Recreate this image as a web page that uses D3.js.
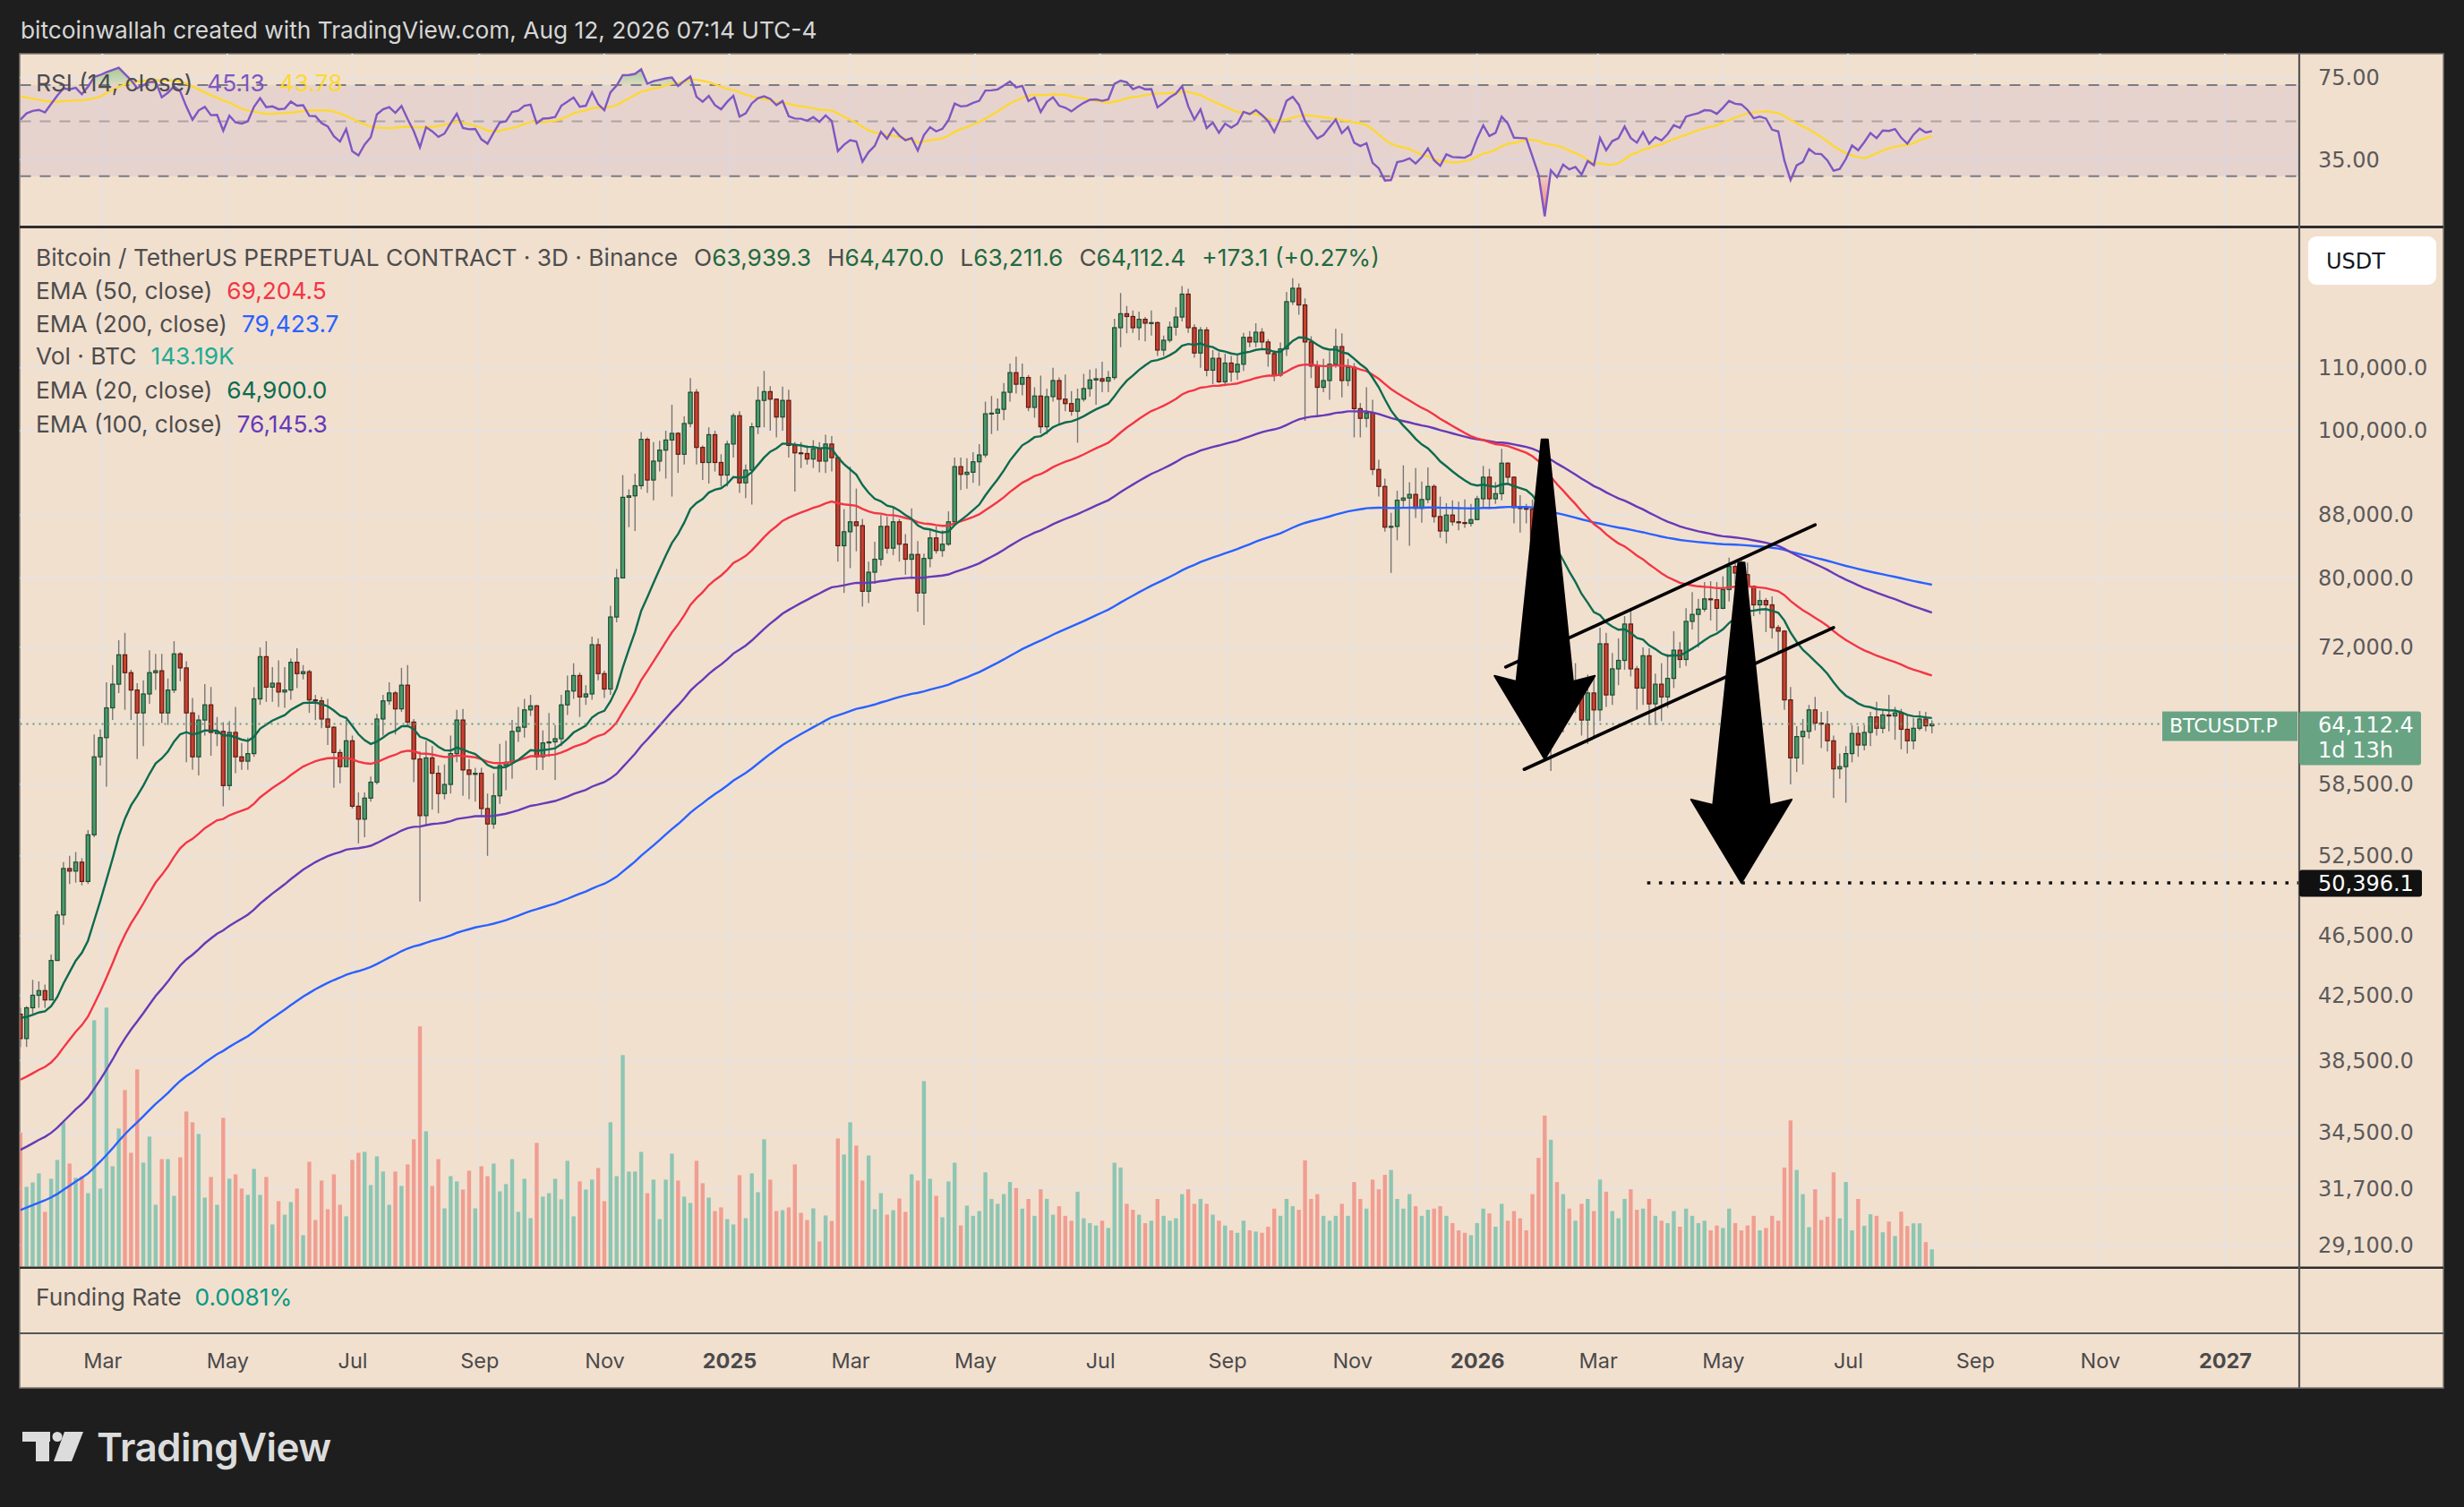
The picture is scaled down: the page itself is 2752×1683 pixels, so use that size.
<!DOCTYPE html>
<html>
<head>
<meta charset="utf-8">
<title>BTCUSDT.P 3D</title>
<script src="https://cdn.jsdelivr.net/npm/d3@7/dist/d3.min.js"></script>
<style>
  html, body { margin: 0; padding: 0; background: #1e1e1e; }
  svg { display: block; }
</style>
</head>
<body>
<svg id="chart"></svg>
<script>
// 3D candles, thousands of USDT, first candle opens 2024-01-21 (UTC)
var firstCandle = '2024-01-21';
var openK = [
  41.3,39.8,41.7,42.5,42.8,42.2,44.8,48.0,51.5,51.3,
  52.0,50.5,54.2,61.0,62.8,65.7,68.1,71.2,69.3,67.5,
  65.2,67.1,69.3,69.5,65.2,67.5,71.3,69.8,65.2,61.0,
  64.5,66.0,63.2,63.4,58.4,63.3,61.0,60.6,61.3,66.6,
  71.0,67.8,68.2,67.3,67.5,70.4,69.2,69.4,66.5,66.4,
  64.6,63.8,61.4,60.1,62.5,56.6,55.5,57.3,58.7,64.6,
  66.4,67.2,65.6,68.0,64.3,60.8,55.8,60.9,59.5,57.7,
  58.5,61.3,64.5,59.8,59.4,59.5,56.4,55.1,57.5,60.2,
  60.5,63.4,63.8,65.5,65.9,61.0,62.3,62.4,62.7,66.0,
  67.4,69.0,66.8,67.1,72.3,69.2,67.6,75.4,80.0,90.4,
  90.6,92.0,98.7,92.8,95.5,97.1,98.6,99.6,96.5,101.1,
  106.0,97.5,95.3,99.4,95.3,93.5,98.0,102.3,92.4,94.2,
  100.6,104.7,106.1,104.9,102.1,104.7,97.8,96.7,96.6,95.8,
  97.3,95.5,98.0,96.0,84.0,85.8,87.1,86.6,78.4,80.7,
  82.3,86.5,83.7,87.1,84.2,82.3,82.9,78.2,82.4,85.0,
  83.4,84.2,87.1,94.7,93.6,93.9,95.4,96.4,102.6,102.7,
  103.3,106.0,109.2,107.3,108.4,103.6,105.4,100.6,105.3,107.9,
  104.9,104.2,103.0,104.9,106.6,108.0,108.2,107.8,108.4,116.9,
  119.4,118.9,116.9,118.4,117.7,117.8,113.0,114.7,117.0,118.8,
  123.0,116.9,112.5,116.5,109.6,111.6,107.7,110.8,109.3,110.6,
  115.2,114.4,116.1,114.4,112.4,108.8,113.2,121.6,124.1,121.0,
  114.4,110.3,106.8,107.9,110.6,113.6,107.9,110.1,103.4,101.9,
  102.7,94.3,91.9,86.4,86.5,90.0,90.3,90.8,88.9,90.1,
  91.9,87.8,85.9,88.0,87.1,87.0,86.9,87.4,90.2,93.2,
  90.2,90.9,95.2,93.2,89.0,88.9,88.8,83.8,78.3,62.6,
  69.9,66.7,69.4,67.2,67.7,64.5,67.2,65.5,72.4,67.0,
  69.7,70.6,74.6,69.7,67.7,71.1,66.1,68.1,66.8,68.7,
  71.7,70.7,74.9,75.7,76.3,77.5,77.4,76.4,78.6,81.4,
  80.6,80.4,79.0,76.8,77.3,76.8,74.2,73.8,66.5,60.9,
  62.9,63.4,65.5,64.2,64.1,62.5,59.9,60.1,61.3,63.2,
  62.1,63.3,64.8,63.7,65.0,64.9,65.2,63.6,62.5,63.7,
  64.6,63.9393
];
var highK = [
  41.7,41.8,43.5,43.4,43.2,45.2,48.3,52.0,52.5,52.8,
  52.3,54.6,63.1,63.6,68.3,70.1,72.8,73.6,69.6,68.2,
  68.5,71.7,71.3,71.3,68.7,72.7,71.5,70.5,66.7,65.0,
  68.1,67.8,64.8,64.3,64.4,65.8,62.3,62.8,67.8,72.0,
  72.7,69.9,70.6,69.9,70.8,71.9,70.1,69.6,67.0,66.8,
  66.6,63.9,61.7,64.5,63.0,57.8,57.8,59.2,65.1,67.0,
  68.3,67.4,69.8,70.1,64.6,61.5,62.5,62.0,60.2,60.3,
  63.0,65.5,65.6,60.8,60.0,60.0,57.7,59.5,62.2,62.5,
  64.5,65.8,66.6,67.0,66.0,63.5,65.2,64.0,67.0,69.0,
  70.3,69.3,68.0,73.2,73.0,69.5,76.7,81.1,93.5,91.5,
  93.7,99.8,99.0,98.3,98.5,100.0,104.0,99.8,102.2,108.3,
  106.5,97.8,100.5,100.0,96.5,98.5,102.7,103.0,95.0,101.2,
  106.9,109.5,107.0,105.0,106.9,106.4,98.3,98.3,97.8,98.6,
  98.3,99.4,99.2,96.3,88.8,94.7,91.6,87.5,82.0,84.5,
  88.0,87.8,88.9,87.5,85.5,88.9,84.6,83.0,86.0,86.5,
  86.0,88.5,96.0,96.0,95.9,96.8,98.0,104.5,105.4,105.0,
  107.5,110.7,111.9,110.7,108.8,106.8,108.7,106.6,110.0,108.4,
  108.9,106.2,106.6,109.0,109.7,109.9,111.0,109.5,118.5,123.2,
  120.8,120.0,119.8,118.8,120.0,118.0,115.5,118.0,120.6,124.5,
  124.0,117.5,117.0,117.0,113.0,112.6,112.4,112.0,112.1,116.0,
  116.3,117.7,116.8,114.9,113.0,114.3,123.4,126.0,125.0,122.2,
  115.4,111.2,111.5,112.8,116.7,115.9,111.5,110.8,104.3,106.8,
  104.8,95.7,93.0,88.3,91.3,94.9,92.5,94.5,92.6,94.6,
  92.2,90.5,89.6,90.0,89.8,90.1,89.5,90.6,94.8,94.4,
  92.5,97.3,95.3,93.3,90.7,89.5,90.1,84.0,79.0,71.0,
  72.0,71.0,70.5,70.3,68.0,69.1,68.8,74.2,73.6,71.4,
  73.0,75.5,76.2,70.0,72.0,71.9,69.2,70.3,71.3,73.8,
  72.6,76.4,78.3,77.5,79.5,79.6,79.5,80.2,82.5,81.8,
  82.4,81.9,79.1,78.5,77.6,77.8,74.5,73.9,67.8,63.9,
  64.6,66.0,66.8,65.3,65.4,63.0,61.3,62.0,64.0,63.9,
  64.0,65.3,66.3,65.5,67.0,65.8,65.6,65.0,64.7,65.4,
  65.3,64.470
];
var lowK = [
  39.3,39.3,41.3,41.7,41.7,42.2,44.8,47.3,50.3,50.4,
  50.2,50.3,54.0,60.2,58.3,64.5,67.2,65.5,64.5,60.8,
  62.0,66.1,67.5,64.2,64.0,67.2,68.4,60.5,59.8,59.3,
  63.0,61.1,62.0,56.6,58.0,59.5,59.8,59.8,61.0,66.0,
  66.3,66.3,65.8,65.7,66.5,67.7,68.6,65.2,64.5,63.7,
  62.1,58.2,58.6,60.1,56.4,53.5,54.0,57.0,58.5,63.0,
  66.0,63.1,65.3,64.0,58.7,49.0,55.0,56.3,56.0,57.2,
  57.7,60.5,57.5,57.2,57.0,55.8,52.5,54.7,56.8,58.0,
  59.0,62.4,62.8,64.9,59.8,59.8,61.0,58.9,62.0,65.0,
  66.6,64.8,66.0,66.5,68.5,66.7,67.0,74.8,80.0,86.4,
  85.9,91.5,91.0,90.0,94.0,93.0,90.5,93.8,95.0,100.5,
  95.0,92.8,92.3,94.0,91.9,91.9,96.0,91.0,90.3,89.4,
  99.5,100.5,100.0,99.0,100.0,96.0,91.2,94.5,95.0,94.5,
  93.9,93.8,94.0,82.0,78.2,81.2,83.3,76.6,77.0,79.3,
  81.5,83.0,82.8,82.0,80.4,79.9,76.0,74.5,81.3,83.0,
  82.6,84.0,86.9,91.4,91.6,92.4,92.0,96.0,99.5,100.0,
  101.6,104.5,105.8,105.5,103.0,102.0,99.6,99.5,104.5,100.8,
  103.0,102.3,98.2,104.5,105.3,104.0,106.0,106.0,108.0,113.5,
  115.9,116.0,114.7,114.5,115.5,112.0,112.0,114.3,115.5,118.0,
  116.0,111.7,110.0,108.6,107.3,107.5,107.0,107.7,108.0,109.5,
  113.5,113.5,113.2,110.2,107.8,108.5,112.0,121.0,119.2,101.5,
  108.3,102.1,106.0,104.8,110.0,105.2,107.0,99.0,99.0,100.5,
  93.5,90.5,85.8,80.6,84.7,89.1,84.0,87.6,87.0,89.6,
  87.0,85.0,84.3,86.6,86.0,86.3,86.5,87.3,89.0,88.8,
  89.5,90.0,92.3,86.9,85.7,86.9,80.8,74.3,61.7,59.7,
  64.3,63.3,65.3,65.2,63.0,62.2,62.8,64.4,65.8,66.0,
  68.0,69.6,68.9,65.5,66.0,64.0,64.0,64.4,65.7,67.7,
  69.8,70.0,74.0,72.0,76.0,75.0,73.8,76.3,77.2,79.3,
  78.4,78.4,75.5,75.7,73.7,73.0,71.5,65.5,58.5,59.6,
  60.3,62.7,63.5,61.8,61.5,57.3,59.0,56.9,60.5,61.0,
  61.6,62.0,63.0,63.2,63.4,62.6,61.7,61.3,61.7,63.5,
  63.4,63.2116
];
var closeK = [
  39.8,41.7,42.5,42.8,42.2,44.8,48.0,51.5,51.3,52.0,
  50.5,54.2,61.0,62.8,65.7,68.1,71.2,69.3,67.5,65.2,
  67.1,69.3,69.5,65.2,67.5,71.3,69.8,65.2,61.0,64.5,
  66.0,63.3,63.4,58.4,63.3,61.0,60.6,61.3,66.6,71.0,
  67.8,68.2,67.3,67.5,70.4,69.2,69.4,66.5,66.4,64.6,
  63.8,61.4,60.1,62.5,56.6,55.5,57.3,58.7,64.6,66.4,
  67.2,65.6,68.0,64.3,60.8,55.8,60.9,59.5,57.7,58.5,
  61.3,64.5,59.8,59.4,59.5,56.4,55.1,57.5,60.2,60.5,
  63.4,63.8,65.5,65.9,61.0,62.3,62.4,62.7,66.0,67.4,
  69.0,66.8,67.1,72.3,69.2,67.6,75.4,80.0,90.4,90.6,
  92.0,98.7,92.8,95.5,97.1,98.6,99.6,96.5,101.1,106.0,
  97.5,95.3,99.4,95.3,93.5,98.0,102.3,92.4,94.2,100.6,
  104.7,106.1,104.9,102.1,104.7,97.8,96.7,96.6,95.8,97.3,
  95.5,98.0,96.0,84.0,85.8,87.1,86.6,78.4,80.7,82.3,
  86.5,83.7,87.1,84.2,82.3,82.9,78.2,82.4,85.0,83.4,
  84.2,87.1,94.7,93.6,93.9,95.4,96.4,102.6,102.7,103.3,
  106.0,109.2,107.3,108.4,103.6,105.4,100.6,105.3,107.9,104.9,
  104.2,103.0,104.9,106.6,108.0,108.2,107.8,108.4,116.9,119.4,
  118.9,116.9,118.4,117.7,117.8,113.0,114.7,117.0,118.8,123.0,
  116.9,112.5,116.5,109.6,111.6,107.7,110.8,109.3,110.6,115.2,
  114.4,116.1,114.4,112.4,108.8,113.2,121.6,124.1,121.0,114.4,
  110.3,106.8,107.9,110.6,113.6,107.9,110.1,103.4,101.9,102.7,
  94.3,91.9,86.4,86.5,90.0,90.3,90.8,88.9,90.1,91.9,
  87.8,85.9,88.0,87.1,87.0,86.9,87.4,90.2,93.2,90.2,
  90.9,95.2,93.2,89.0,88.9,88.8,83.8,78.3,62.6,69.9,
  66.7,69.4,67.2,67.7,64.5,67.2,65.5,72.4,67.0,69.7,
  70.6,74.6,69.7,67.7,71.1,66.1,68.1,66.8,68.7,71.7,
  70.7,74.9,75.7,76.3,77.5,77.4,76.4,78.6,81.4,80.6,
  80.4,79.0,76.8,77.3,76.8,74.2,73.8,66.5,60.9,62.9,
  63.4,65.5,64.2,64.1,62.5,59.9,60.1,61.3,63.2,62.1,
  63.3,64.8,63.7,65.0,64.9,65.2,63.6,62.5,63.7,64.6,
  63.9393,64.1124
];
// volume per candle, thousands of BTC
var volumeK = [
  1110,660,697,772,453,727,883,1195,853,735,
  747,608,2040,646,2144,831,1143,1462,942,1632,
  861,1076,512,890,890,586,905,1284,1195,1098,
  571,742,512,1232,727,764,646,594,809,594,
  742,349,542,430,534,646,260,868,386,712,
  475,764,512,416,883,942,950,675,913,787,
  512,787,668,846,1054,1989,1120,668,890,482,
  749,705,638,794,482,831,749,853,623,683,
  890,453,727,401,1024,579,608,727,557,876,
  416,705,638,720,816,542,1195,749,1751,787,
  787,950,608,720,393,720,935,712,579,527,
  876,690,571,460,490,393,349,757,401,772,
  616,1054,720,460,467,490,846,445,386,482,
  208,423,378,1061,928,1195,1002,712,920,475,
  608,430,467,564,453,764,712,1536,727,586,
  408,705,860,341,505,420,460,780,560,520,
  600,700,650,480,560,420,640,560,430,500,
  420,380,620,400,360,340,380,320,860,820,
  520,470,430,360,380,560,420,380,400,600,
  640,520,560,520,430,380,340,300,280,380,
  300,290,280,330,480,420,560,500,470,880,
  560,600,420,380,420,520,420,700,560,480,
  720,640,760,800,560,480,600,500,420,470,
  480,500,420,360,300,280,260,360,480,440,
  330,520,380,460,400,300,600,900,1250,1050,
  700,600,480,380,520,560,460,720,620,460,
  400,560,640,470,480,560,420,380,360,460,
  330,480,420,360,380,300,340,320,480,360,
  300,340,420,300,320,420,380,820,1210,800,
  600,327,640,386,413,780,400,700,300,560,
  338,433,420,284,373,254,455,336,358,358,
  203,143.19
];

// EMA values just before the first candle (thousands)
var emaPeriods = [200, 100, 50, 20];
var emaSeedK = [30.6, 33.5, 37.3, 41.2];
var emaColors = ['#2962ff', '#673ab7', '#f23645', '#0c6b4f'];
// RSI warm-up state before the first candle
var rsiSeedGainK = 1.2, rsiSeedLossK = 1.05, rsiMaSeed = 64;

var priceTicks = [110000, 100000, 88000, 80000, 72000, 58500, 52500, 46500, 42500, 38500, 34500, 31700, 29100];
var hiddenGridPrices = [64500];
var rsiTicks = [75, 35];
var rsiLevels = [70, 50, 30];
var tickDates = ['2024-03-01','2024-05-01','2024-07-01','2024-09-01','2024-11-01','2025-01-01',
  '2025-03-01','2025-05-01','2025-07-01','2025-09-01','2025-11-01','2026-01-01',
  '2026-03-01','2026-05-01','2026-07-01','2026-09-01','2026-11-01','2027-01-01'];
var tickLabels = ['Mar','May','Jul','Sep','Nov','2025','Mar','May','Jul','Sep','Nov','2026',
  'Mar','May','Jul','Sep','Nov','2027'];

// user drawings, in date / price
var arrowMarks = [
  {from: ['2026-02-03', 98700], to: ['2026-02-03', 60800]},
  {from: ['2026-05-10', 81900], to: ['2026-05-10', 50400]}
];
var channelLines = [
  {from: ['2026-01-15', 69900], to: ['2026-06-15', 86700]},
  {from: ['2026-01-24', 59850], to: ['2026-06-24', 74200]}
];
var targetStart = '2026-03-25', targetPrice = 50396.1;

// ---------------------------------------------------------------
var W = 2752, H = 1683;
var plotL = 22.5, plotR = 2568, axisR = 2729,
  rsiTop = 60, rsiBot = 252, mainTop = 255, mainBot = 1414.5,
  fundTop = 1417, fundBot = 1488.5, timeBot = 1550;
var uiFont = "Inter, 'Noto Sans', sans-serif",
  axisFont = "'DejaVu Sans', Verdana, sans-serif";
var uiSize = 26.3;
var textGray = '#4d4d4d';
var parseDate = d3.utcParse('%Y-%m-%d');
var DAY = 86400000;
var t0 = parseDate(firstCandle).getTime();

var candles = closeK.map(function(c, i) {
  return {
    date: new Date(t0 + i * 3 * DAY),
    o: openK[i] * 1000, h: highK[i] * 1000, l: lowK[i] * 1000, c: c * 1000,
    v: volumeK[i]
  };
});

var x = d3.scaleUtc()
  .domain([new Date(Date.UTC(2024, 0, 21)), new Date(Date.UTC(2027, 1, 6, 7))])
  .range([22.8, plotR]);
var y = d3.scaleLog().domain([28170, 135900]).range([mainBot, mainTop]);
var rsiY = d3.scaleLog().domain([18.97, 93.6]).range([rsiBot, rsiTop]);
var volY = d3.scaleLinear().domain([0, 2150]).range([mainBot, mainBot - 290]);

// indicators
function ema(period, seedK) {
  var a = 2 / (period + 1), prev = seedK * 1000;
  return candles.map(function(d) {
    prev = a * d.c + (1 - a) * prev;
    return {date: d.date, v: prev};
  });
}
var emaSeries = emaPeriods.map(function(p, i) { return ema(p, emaSeedK[i]); });

var avgG = rsiSeedGainK * 1000, avgL = rsiSeedLossK * 1000, prevC = candles[0].o;
var rsi = candles.map(function(d) {
  var ch = d.c - prevC; prevC = d.c;
  avgG = (avgG * 13 + Math.max(ch, 0)) / 14;
  avgL = (avgL * 13 + Math.max(-ch, 0)) / 14;
  return {date: d.date, v: 100 - 100 / (1 + avgG / avgL)};
});
var rsiMa = rsi.map(function(d, i) {
  var s = 0, n = 0;
  for (var k = Math.max(0, i - 13); k <= i; k++) { s += rsi[k].v; n++; }
  s += (14 - n) * rsiMaSeed;
  return {date: d.date, v: s / 14};
});

// ---------------------------------------------------------------
var svg = d3.select('#chart').attr('width', W).attr('height', H);
svg.append('rect').attr('width', W).attr('height', H).attr('fill', '#1e1e1e');

var defs = svg.append('defs');
defs.append('clipPath').attr('id', 'clipMain').append('rect')
  .attr('x', plotL).attr('y', mainTop).attr('width', plotR - plotL).attr('height', mainBot - mainTop);
defs.append('clipPath').attr('id', 'clipRsi').append('rect')
  .attr('x', plotL).attr('y', rsiTop).attr('width', plotR - plotL).attr('height', rsiBot - rsiTop);
var ob = defs.append('linearGradient').attr('id', 'obGrad').attr('gradientUnits', 'userSpaceOnUse')
  .attr('x1', 0).attr('x2', 0).attr('y1', rsiTop).attr('y2', rsiY(70));
ob.append('stop').attr('offset', 0).attr('stop-color', '#4caf50').attr('stop-opacity', 0.75);
ob.append('stop').attr('offset', 1).attr('stop-color', '#4caf50').attr('stop-opacity', 0.12);
var os = defs.append('linearGradient').attr('id', 'osGrad').attr('gradientUnits', 'userSpaceOnUse')
  .attr('x1', 0).attr('x2', 0).attr('y1', rsiY(30)).attr('y2', rsiBot);
os.append('stop').attr('offset', 0).attr('stop-color', '#f23645').attr('stop-opacity', 0.12);
os.append('stop').attr('offset', 1).attr('stop-color', '#f23645').attr('stop-opacity', 0.75);

// chart panel
svg.append('rect').attr('x', 22).attr('y', rsiTop).attr('width', axisR - 22).attr('height', timeBot - rsiTop)
  .attr('fill', '#f2e0cf').attr('stroke', '#7d7670').attr('stroke-width', 1.5);

// grid
var gridColor = '#e7e2df';
var gGrid = svg.append('g').attr('stroke', gridColor).attr('stroke-width', 2);
var tDates = tickDates.map(parseDate);
[[rsiTop, rsiBot], [mainTop, mainBot]].forEach(function(span) {
  gGrid.append('g').selectAll('line').data(tDates).join('line')
    .attr('x1', function(d) { return x(d); }).attr('x2', function(d) { return x(d); })
    .attr('y1', span[0]).attr('y2', span[1]);
});
gGrid.append('g').selectAll('line').data(priceTicks.concat(hiddenGridPrices)).join('line')
  .attr('x1', plotL).attr('x2', plotR)
  .attr('y1', function(d) { return y(d); }).attr('y2', function(d) { return y(d); });
gGrid.append('g').selectAll('line').data(rsiTicks).join('line')
  .attr('x1', plotL).attr('x2', plotR)
  .attr('y1', function(d) { return rsiY(d); }).attr('y2', function(d) { return rsiY(d); });

// RSI pane
var gRsi = svg.append('g').attr('clip-path', 'url(#clipRsi)');
gRsi.append('rect').attr('x', plotL).attr('width', plotR - plotL)
  .attr('y', rsiY(70)).attr('height', rsiY(30) - rsiY(70))
  .attr('fill', '#7e57c2').attr('fill-opacity', 0.09);
gRsi.selectAll('line.lvl').data(rsiLevels).join('line')
  .attr('x1', plotL).attr('x2', plotR)
  .attr('y1', function(d) { return rsiY(d); }).attr('y2', function(d) { return rsiY(d); })
  .attr('stroke', '#787b86').attr('stroke-opacity', function(d) { return d === 50 ? 0.55 : 1; })
  .attr('stroke-width', 2).attr('stroke-dasharray', '12 10');
var rx = function(d) { return x(d.date); };
gRsi.append('path').datum(rsi)
  .attr('d', d3.area().x(rx).y0(rsiY(70)).y1(function(d) { return rsiY(Math.max(d.v, 70)); }))
  .attr('fill', 'url(#obGrad)');
gRsi.append('path').datum(rsi)
  .attr('d', d3.area().x(rx).y0(rsiY(30)).y1(function(d) { return rsiY(Math.min(d.v, 30)); }))
  .attr('fill', 'url(#osGrad)');
gRsi.append('path').datum(rsiMa)
  .attr('d', d3.line().x(rx).y(function(d) { return rsiY(d.v); }))
  .attr('fill', 'none').attr('stroke', '#fdd835').attr('stroke-width', 2.4);
gRsi.append('path').datum(rsi)
  .attr('d', d3.line().x(rx).y(function(d) { return rsiY(d.v); }))
  .attr('fill', 'none').attr('stroke', '#7e57c2').attr('stroke-width', 2.4);

// main pane
var gMain = svg.append('g').attr('clip-path', 'url(#clipMain)');
var volW = 4.4;
gMain.append('g').selectAll('rect').data(candles).join('rect')
  .attr('x', function(d) { return x(d.date) - volW / 2; })
  .attr('width', volW)
  .attr('y', function(d) { return volY(d.v); })
  .attr('height', function(d) { return mainBot - volY(d.v); })
  .attr('fill', function(d) { return d.c >= d.o ? '#8dc6b3' : '#f09e91'; });

var upFill = '#4b9b6c', upLine = '#1d4c32', dnFill = '#c9412f', dnLine = '#5c1b12';
var gCandles = gMain.append('g');
gCandles.append('g').selectAll('line').data(candles).join('line')
  .attr('x1', function(d) { return x(d.date); }).attr('x2', function(d) { return x(d.date); })
  .attr('y1', function(d) { return y(d.h); }).attr('y2', function(d) { return y(d.l); })
  .attr('stroke', '#777777').attr('stroke-width', 1.4);
var bodyW = 4.2;
gCandles.append('g').selectAll('rect').data(candles).join('rect')
  .attr('x', function(d) { return x(d.date) - bodyW / 2; })
  .attr('width', bodyW)
  .attr('y', function(d) { return y(Math.max(d.o, d.c)); })
  .attr('height', function(d) { return Math.max(1, Math.abs(y(d.o) - y(d.c))); })
  .attr('fill', function(d) { return d.c >= d.o ? upFill : dnFill; })
  .attr('stroke', function(d) { return d.c >= d.o ? upLine : dnLine; })
  .attr('stroke-width', 1.2);

var emaLine = d3.line().x(rx).y(function(d) { return y(d.v); });
emaSeries.forEach(function(s, i) {
  gMain.append('path').datum(s).attr('d', emaLine)
    .attr('fill', 'none').attr('stroke', emaColors[i]).attr('stroke-width', 2.4);
});

var last = candles[candles.length - 1];
gMain.append('line').attr('x1', plotL).attr('x2', plotR)
  .attr('y1', y(last.c)).attr('y2', y(last.c))
  .attr('stroke', '#5e9f7b').attr('stroke-width', 2).attr('stroke-dasharray', '2 5');

// drawings
var gDraw = gMain.append('g');
function pt(p) { return [x(parseDate(p[0])), y(p[1])]; }
arrowMarks.forEach(function(a) {
  var p0 = pt(a.from), p1 = pt(a.to);
  var dx = p1[0] - p0[0], dy = p1[1] - p0[1], len = Math.hypot(dx, dy);
  var ux = dx / len, uy = dy / len, vx = -uy, vy = ux;
  var shape = [[0, -3.5], [0.757 * len, -0.0885 * len], [0.74 * len, -0.157 * len], [len, 0],
    [0.74 * len, 0.157 * len], [0.757 * len, 0.0885 * len], [0, 3.5]];
  var pts = shape.map(function(s) { return [p0[0] + ux * s[0] + vx * s[1], p0[1] + uy * s[0] + vy * s[1]]; });
  gDraw.append('path').attr('d', 'M' + pts.join('L') + 'Z')
    .attr('fill', '#000').attr('stroke', '#000').attr('stroke-width', 2).attr('stroke-linejoin', 'round');
});
channelLines.forEach(function(c) {
  var p0 = pt(c.from), p1 = pt(c.to);
  gDraw.append('line').attr('x1', p0[0]).attr('y1', p0[1]).attr('x2', p1[0]).attr('y2', p1[1])
    .attr('stroke', '#000').attr('stroke-width', 3.6).attr('stroke-linecap', 'round');
});
gDraw.append('line').attr('x1', x(parseDate(targetStart))).attr('x2', plotR)
  .attr('y1', y(targetPrice)).attr('y2', y(targetPrice))
  .attr('stroke', '#111').attr('stroke-width', 3.6).attr('stroke-dasharray', '3.6 9.6');

// pane separators and axis border
var gSep = svg.append('g');
gSep.append('line').attr('x1', 22).attr('x2', axisR).attr('y1', 253.5).attr('y2', 253.5)
  .attr('stroke', '#2e2e2e').attr('stroke-width', 3);
gSep.append('line').attr('x1', 22).attr('x2', axisR).attr('y1', 1415.8).attr('y2', 1415.8)
  .attr('stroke', '#2e2e2e').attr('stroke-width', 2.6);
gSep.append('line').attr('x1', 22).attr('x2', axisR).attr('y1', 1489).attr('y2', 1489)
  .attr('stroke', '#555555').attr('stroke-width', 2.2);
gSep.append('line').attr('x1', plotR).attr('x2', plotR).attr('y1', rsiTop).attr('y2', timeBot)
  .attr('stroke', '#555555').attr('stroke-width', 2.2);

// axes
var priceAxis = d3.axisRight(y).tickValues(priceTicks).tickFormat(d3.format(',.1f')).tickSize(0).tickPadding(21);
var gPA = svg.append('g').attr('transform', 'translate(' + plotR + ',0)').call(priceAxis);
var rsiAxis = d3.axisRight(rsiY).tickValues(rsiTicks).tickFormat(d3.format('.2f')).tickSize(0).tickPadding(21);
var gRA = svg.append('g').attr('transform', 'translate(' + plotR + ',0)').call(rsiAxis);
[gPA, gRA].forEach(function(g) {
  g.select('.domain').remove();
  g.attr('font-family', axisFont).attr('font-size', 24);
  g.selectAll('text').attr('fill', '#5a5a5a');
});
var timeAxis = d3.axisBottom(x).tickValues(tDates)
  .tickFormat(function(d, i) { return tickLabels[i]; }).tickSize(0).tickPadding(0);
var gTA = svg.append('g').attr('transform', 'translate(0,1528)').call(timeAxis);
gTA.select('.domain').remove();
gTA.attr('font-family', uiFont).attr('font-size', 23.5);
gTA.selectAll('text').attr('y', 0).attr('dy', 0).attr('fill', '#4a4a4a')
  .attr('font-weight', function(d, i) { return /^\d{4}$/.test(tickLabels[i]) ? 700 : 400; });

// USDT button
svg.append('rect').attr('x', 2578).attr('y', 264).attr('width', 143).attr('height', 54).attr('rx', 9)
  .attr('fill', '#ffffff');
svg.append('text').attr('x', 2598).attr('y', 300).attr('font-family', axisFont).attr('font-size', 24)
  .attr('fill', '#131722').text('USDT');

// last price tags
var fmt1 = d3.format(',.1f');
var yl = y(last.c);
svg.append('rect').attr('x', 2415).attr('y', yl - 14).attr('width', 151).attr('height', 33)
  .attr('fill', '#68a483');
svg.append('text').attr('x', 2423).attr('y', yl + 2).attr('dy', '0.35em')
  .attr('font-family', axisFont).attr('font-size', 22).attr('fill', '#ffffff').text('BTCUSDT.P');
svg.append('rect').attr('x', plotR).attr('y', yl - 14).attr('width', 136).attr('height', 60).attr('rx', 3)
  .attr('fill', '#68a483');
svg.append('text').attr('x', 2589).attr('y', yl + 1).attr('dy', '0.35em')
  .attr('font-family', axisFont).attr('font-size', 24).attr('fill', '#ffffff').text(fmt1(last.c));
svg.append('text').attr('x', 2589).attr('y', yl + 29).attr('dy', '0.35em')
  .attr('font-family', axisFont).attr('font-size', 24).attr('fill', '#ffffff').text('1d 13h');
var yt = y(targetPrice);
svg.append('rect').attr('x', plotR).attr('y', yt - 14.5).attr('width', 137).attr('height', 30).attr('rx', 3)
  .attr('fill', '#111111');
svg.append('text').attr('x', 2589).attr('y', yt + 1).attr('dy', '0.35em')
  .attr('font-family', axisFont).attr('font-size', 24).attr('fill', '#ffffff').text(fmt1(targetPrice));

// legends
function legend(yBase, parts) {
  var t = svg.append('text').attr('x', 40).attr('y', yBase)
    .attr('font-family', uiFont).attr('font-size', uiSize);
  parts.forEach(function(p) {
    t.append('tspan').attr('dx', p[2] || 0).attr('fill', p[1]).text(p[0]);
  });
}
var upText = '#1f6a43';
legend(297, [
  ['Bitcoin / TetherUS PERPETUAL CONTRACT \u00b7 3D \u00b7 Binance', textGray],
  ['O', textGray, 18], ['63,939.3', upText],
  ['H', textGray, 18], ['64,470.0', upText],
  ['L', textGray, 18], ['63,211.6', upText],
  ['C', textGray, 18], ['64,112.4', upText],
  ['+173.1 (+0.27%)', upText, 18]
]);
legend(334, [['EMA (50, close)', textGray], ['69,204.5', '#f23645', 16]]);
legend(371, [['EMA (200, close)', textGray], ['79,423.7', '#2962ff', 16]]);
legend(407, [['Vol \u00b7 BTC', textGray], ['143.19K', '#22ab94', 16]]);
legend(445, [['EMA (20, close)', textGray], ['64,900.0', '#0c6b4f', 16]]);
legend(483, [['EMA (100, close)', textGray], ['76,145.3', '#673ab7', 16]]);
legend(102, [['RSI (14, close)', textGray], ['45.13', '#7e57c2', 16], ['43.78', '#fdd835', 16]]);
legend(1458, [['Funding Rate', textGray], ['0.0081%', '#089981', 15]]);

// header
svg.append('text').attr('x', 23).attr('y', 43).attr('font-family', uiFont).attr('font-size', uiSize)
  .attr('fill', '#d6d6d6').text('bitcoinwallah created with TradingView.com, Aug 12, 2026 07:14 UTC-4');

// TradingView logo
var gLogo = svg.append('g').attr('fill', '#dcdcdc');
gLogo.append('rect').attr('x', 25).attr('y', 1599).attr('width', 31).attr('height', 11);
gLogo.append('rect').attr('x', 40).attr('y', 1599).attr('width', 15).attr('height', 33);
gLogo.append('circle').attr('cx', 64).attr('cy', 1604.5).attr('r', 5.5);
gLogo.append('path').attr('d', 'M72,1599L93,1599L80,1632L60,1632Z');
gLogo.append('text').attr('x', 108).attr('y', 1632).attr('font-family', uiFont)
  .attr('font-size', 44).attr('font-weight', 600).attr('letter-spacing', -0.6).text('TradingView');
</script>
</body>
</html>
